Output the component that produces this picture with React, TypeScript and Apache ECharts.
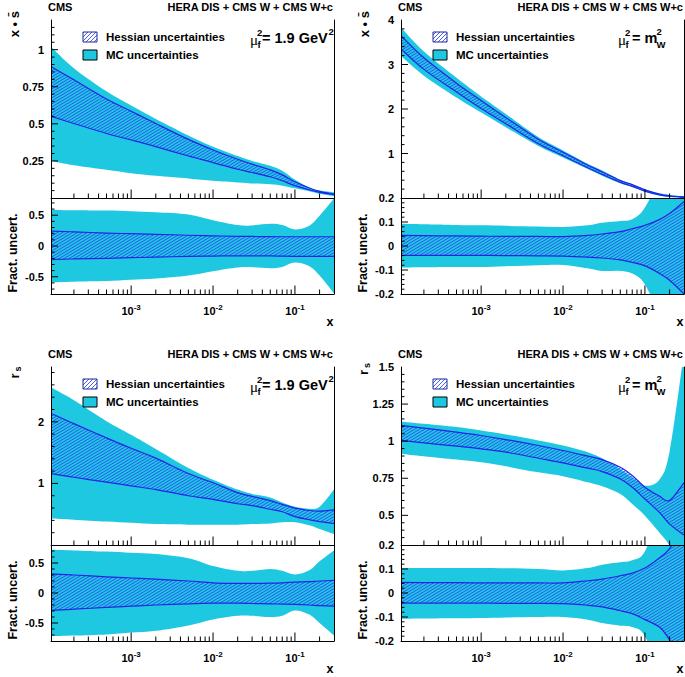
import React, { useEffect, useRef } from 'react';
import * as echarts from 'echarts';

// ---------------- data ----------------
const X_MIN = 1.05e-4;
const X_MAX = 0.3;
const X_POINTS = [1.05e-4, 2e-4, 5e-4, 1e-3, 2e-3, 5e-3, 1e-2, 2e-2, 3e-2, 5e-2, 7e-2, 0.1, 0.15, 0.2, 0.3];
const X_MAJOR_TICKS = [1e-3, 1e-2, 1e-1];
const X_MINOR_MANTISSAS = [2, 3, 4, 5, 6, 7, 8, 9];

// Panel A: x*sbar, mu_f^2 = 1.9 GeV^2
const A_HESS_UP = [0.886, 0.797, 0.667, 0.585, 0.502, 0.395, 0.324, 0.261, 0.228, 0.19, 0.156, 0.109, 0.067, 0.045, 0.027];
const A_HESS_LO = [0.551, 0.502, 0.435, 0.391, 0.346, 0.283, 0.239, 0.194, 0.172, 0.143, 0.116, 0.083, 0.054, 0.038, 0.022];
const A_MC_UP = [1.02, 0.875, 0.719, 0.623, 0.533, 0.422, 0.346, 0.283, 0.25, 0.217, 0.183, 0.123, 0.071, 0.05, 0.038];
const A_MC_LO = [0.25, 0.221, 0.19, 0.167, 0.15, 0.132, 0.116, 0.105, 0.098, 0.092, 0.083, 0.065, 0.045, 0.028, 0.012];
const A_FR_HESS_UP = [0.242, 0.23, 0.21, 0.2, 0.19, 0.175, 0.165, 0.158, 0.155, 0.152, 0.15, 0.15, 0.15, 0.15, 0.15];
const A_FR_HESS_LO = [-0.22, -0.21, -0.2, -0.19, -0.18, -0.17, -0.163, -0.16, -0.16, -0.162, -0.165, -0.167, -0.168, -0.168, -0.168];
const A_FR_MC_UP = [0.59, 0.58, 0.575, 0.565, 0.548, 0.511, 0.42, 0.34, 0.335, 0.36, 0.34, 0.27, 0.33, 0.49, 0.77];
const A_FR_MC_LO = [-0.59, -0.58, -0.57, -0.55, -0.53, -0.48, -0.41, -0.35, -0.345, -0.36, -0.34, -0.27, -0.33, -0.48, -0.77];

// Panel B: x*sbar, mu_f^2 = m_W^2
const B_HESS_UP = [3.65, 3.15, 2.58, 2.19, 1.81, 1.32, 1.03, 0.74, 0.59, 0.39, 0.3, 0.184, 0.089, 0.051, 0.024];
const B_HESS_LO = [3.35, 2.89, 2.38, 2.01, 1.67, 1.22, 0.95, 0.68, 0.53, 0.35, 0.26, 0.156, 0.071, 0.039, 0.016];
const B_MC_UP = [3.83, 3.29, 2.7, 2.28, 1.89, 1.37, 1.07, 0.77, 0.62, 0.41, 0.31, 0.197, 0.104, 0.067, 0.036];
const B_MC_LO = [3.19, 2.75, 2.26, 1.92, 1.59, 1.17, 0.91, 0.65, 0.5, 0.33, 0.25, 0.143, 0.056, 0.023, 0.004];
const B_FR_HESS_UP = [0.044, 0.043, 0.042, 0.041, 0.04, 0.04, 0.039, 0.044, 0.05, 0.06, 0.072, 0.086, 0.11, 0.135, 0.185];
const B_FR_HESS_LO = [-0.039, -0.039, -0.039, -0.039, -0.04, -0.041, -0.042, -0.046, -0.05, -0.058, -0.068, -0.083, -0.114, -0.143, -0.2];
const B_FR_MC_UP = [0.093, 0.091, 0.088, 0.086, 0.084, 0.081, 0.079, 0.086, 0.097, 0.104, 0.111, 0.16, 0.3, 0.5, 0.8];
const B_FR_MC_LO = [-0.09, -0.089, -0.088, -0.0875, -0.084, -0.08, -0.079, -0.093, -0.104, -0.104, -0.115, -0.16, -0.3, -0.5, -0.8];

// Panel C: r_s, mu_f^2 = 1.9 GeV^2
const C_HESS_UP = [2.14, 1.97, 1.74, 1.57, 1.41, 1.16, 1.01, 0.85, 0.79, 0.72, 0.66, 0.6, 0.56, 0.55, 0.57];
const C_HESS_LO = [1.16, 1.1, 1.02, 0.96, 0.9, 0.8, 0.74, 0.67, 0.64, 0.58, 0.54, 0.46, 0.41, 0.38, 0.35];
const C_MC_UP = [2.56, 2.35, 2.01, 1.79, 1.56, 1.25, 1.06, 0.9, 0.83, 0.77, 0.69, 0.62, 0.59, 0.62, 0.9];
const C_MC_LO = [0.43, 0.41, 0.38, 0.36, 0.34, 0.33, 0.33, 0.33, 0.34, 0.35, 0.37, 0.37, 0.32, 0.26, 0.18];
const C_FR_HESS_UP = [0.32, 0.3, 0.27, 0.25, 0.23, 0.2, 0.17, 0.16, 0.16, 0.165, 0.17, 0.18, 0.19, 0.2, 0.21];
const C_FR_HESS_LO = [-0.29, -0.27, -0.24, -0.22, -0.2, -0.18, -0.17, -0.17, -0.175, -0.18, -0.185, -0.19, -0.2, -0.21, -0.22];
const C_FR_MC_UP = [0.72, 0.71, 0.69, 0.67, 0.65, 0.58, 0.45, 0.37, 0.37, 0.4, 0.37, 0.31, 0.38, 0.53, 0.71];
const C_FR_MC_LO = [-0.72, -0.71, -0.69, -0.66, -0.63, -0.54, -0.44, -0.38, -0.38, -0.4, -0.38, -0.29, -0.36, -0.5, -0.71];

// Panel D: r_s, mu_f^2 = m_W^2
const D_HESS_UP = [1.106, 1.088, 1.061, 1.038, 1.011, 0.971, 0.937, 0.899, 0.876, 0.824, 0.768, 0.69, 0.63, 0.6, 0.72];
const D_HESS_LO = [1.005, 0.989, 0.966, 0.948, 0.926, 0.885, 0.854, 0.818, 0.795, 0.745, 0.689, 0.61, 0.52, 0.441, 0.367];
const D_MC_UP = [1.133, 1.117, 1.095, 1.072, 1.045, 1.005, 0.971, 0.926, 0.885, 0.813, 0.757, 0.7, 0.74, 0.93, 1.6];
const D_MC_LO = [0.914, 0.899, 0.876, 0.858, 0.831, 0.79, 0.764, 0.723, 0.696, 0.644, 0.577, 0.498, 0.385, 0.295, 0.1];
const D_FR_HESS_UP = [0.044, 0.043, 0.043, 0.042, 0.042, 0.042, 0.042, 0.051, 0.058, 0.072, 0.083, 0.104, 0.146, 0.185, 0.28];
const D_FR_HESS_LO = [-0.042, -0.042, -0.042, -0.042, -0.043, -0.043, -0.044, -0.051, -0.058, -0.074, -0.086, -0.111, -0.142, -0.195, -0.3];
const D_FR_MC_UP = [0.104, 0.104, 0.104, 0.104, 0.103, 0.1, 0.094, 0.104, 0.118, 0.128, 0.136, 0.174, 0.35, 0.55, 0.85];
const D_FR_MC_LO = [-0.107, -0.106, -0.105, -0.104, -0.102, -0.1, -0.1, -0.111, -0.125, -0.136, -0.142, -0.18, -0.35, -0.55, -0.85];

// axis ranges and tick labels
const A_Y_LABELS = [0.25, 0.5, 0.75, 1];
const B_Y_LABELS = [1, 2, 3, 4];
const C_Y_LABELS = [1, 2];
const D_Y_LABELS = [0.5, 0.75, 1, 1.25, 1.5];
const FR_WIDE_LABELS = [-0.5, 0, 0.5];
const FR_NARROW_LABELS = [-0.2, -0.1, 0, 0.1, 0.2];

// ---------------- styling ----------------
const FONT = '"Liberation Sans", Arial, Helvetica, sans-serif';
const CYAN = '#1fc8e1';
const EDGE = '#2323e6';

function svgUrl(svg: string) {
  return 'data:image/svg+xml;base64,' + btoa(svg);
}
function bandHatch() {
  return {
    image: svgUrl('<svg xmlns="http://www.w3.org/2000/svg" width="5" height="3"><path d="M-1,3.6 L6,-0.6 M-1,0.6 L1,-0.6 M4,3.6 L6,2.4" stroke="#2f46f2" stroke-width="0.9" fill="none"/></svg>'),
    repeat: 'repeat',
    imageWidth: 5,
    imageHeight: 3,
  };
}
function legendHatch() {
  return {
    image: svgUrl('<svg xmlns="http://www.w3.org/2000/svg" width="4" height="4"><rect width="4" height="4" fill="#ffffff"/><path d="M-1,5 L5,-1 M-1,1 L1,-1 M3,5 L5,3" stroke="#3a4cf0" stroke-width="0.9" fill="none"/></svg>'),
    repeat: 'repeat',
    imageWidth: 4,
    imageHeight: 4,
  };
}

function curve(pts: number[][], cmd: string): string {
  const f = (n: number) => n.toFixed(2);
  let d = `${cmd}${f(pts[0][0])},${f(pts[0][1])}`;
  for (let i = 1; i < pts.length; i++) {
    const p0 = pts[Math.max(i - 2, 0)];
    const p1 = pts[i - 1];
    const p2 = pts[i];
    const p3 = pts[Math.min(i + 1, pts.length - 1)];
    d += `C${f(p1[0] + (p2[0] - p0[0]) / 6)},${f(p1[1] + (p2[1] - p0[1]) / 6)} ${f(p2[0] - (p3[0] - p1[0]) / 6)},${f(p2[1] - (p3[1] - p1[1]) / 6)} ${f(p2[0])},${f(p2[1])}`;
  }
  return d;
}

function bandSeries(g: number, lo: number[], hi: number[], hess: boolean) {
  return {
    type: 'custom',
    xAxisIndex: g,
    yAxisIndex: g,
    clip: true,
    silent: true,
    z: hess ? 3 : 2,
    data: X_POINTS.map((x, i) => [x, lo[i], hi[i]]),
    encode: { x: 0, y: [1, 2] },
    renderItem: (params: any, api: any) => {
      if (params.dataIndex !== 0) return null;
      const up = X_POINTS.map((x, i) => api.coord([x, hi[i]]));
      const dn = X_POINTS.map((x, i) => api.coord([x, lo[i]]));
      const fillD = curve(up, 'M') + curve(dn.slice().reverse(), 'L') + 'Z';
      const children: any[] = [
        { type: 'path', shape: { pathData: fillD }, style: { fill: hess ? bandHatch() : CYAN, stroke: 'none' } },
      ];
      if (hess) {
        children.push({ type: 'path', shape: { pathData: curve(up, 'M') }, style: { fill: 'none', stroke: EDGE, lineWidth: 1.2 } });
        children.push({ type: 'path', shape: { pathData: curve(dn, 'M') }, style: { fill: 'none', stroke: EDGE, lineWidth: 1.2 } });
      }
      return { type: 'group', children };
    },
  };
}

function tickSeries(g: number, ticks: number[][]) {
  return {
    type: 'custom',
    xAxisIndex: g,
    yAxisIndex: g,
    silent: true,
    z: 6,
    data: ticks,
    encode: { x: 0, y: 1 },
    renderItem: (params: any, api: any) => {
      const p = api.coord([api.value(0), api.value(1)]);
      const len = api.value(2);
      const horiz = api.value(3) === 1;
      return {
        type: 'line',
        shape: horiz
          ? { x1: p[0], y1: p[1], x2: p[0] + len, y2: p[1] }
          : { x1: p[0], y1: p[1], x2: p[0], y2: p[1] - len },
        style: { stroke: '#000', lineWidth: 1 },
      };
    },
  };
}

function near(a: number, b: number) {
  return Math.abs(a - b) < 1e-7;
}

type Sub = {
  ymin: number; ymax: number; labels: number[]; minorStep: number;
  hessUp: number[]; hessLo: number[]; mcUp: number[]; mcLo: number[];
};
type Panel = { ox: number; oy: number; upper: Sub; lower: Sub; kind: 'xs' | 'rs'; scale: 'low' | 'mw' };

const PANELS: Panel[] = [
  {
    ox: 0, oy: 0, kind: 'xs', scale: 'low',
    upper: { ymin: 0, ymax: 1.2, labels: A_Y_LABELS, minorStep: 0.05, hessUp: A_HESS_UP, hessLo: A_HESS_LO, mcUp: A_MC_UP, mcLo: A_MC_LO },
    lower: { ymin: -0.78, ymax: 0.78, labels: FR_WIDE_LABELS, minorStep: 0.1, hessUp: A_FR_HESS_UP, hessLo: A_FR_HESS_LO, mcUp: A_FR_MC_UP, mcLo: A_FR_MC_LO },
  },
  {
    ox: 350, oy: 0, kind: 'xs', scale: 'mw',
    upper: { ymin: 0, ymax: 4, labels: B_Y_LABELS, minorStep: 0.2, hessUp: B_HESS_UP, hessLo: B_HESS_LO, mcUp: B_MC_UP, mcLo: B_MC_LO },
    lower: { ymin: -0.2, ymax: 0.2, labels: FR_NARROW_LABELS, minorStep: 0.02, hessUp: B_FR_HESS_UP, hessLo: B_FR_HESS_LO, mcUp: B_FR_MC_UP, mcLo: B_FR_MC_LO },
  },
  {
    ox: 0, oy: 347, kind: 'rs', scale: 'low',
    upper: { ymin: 0, ymax: 2.89, labels: C_Y_LABELS, minorStep: 0.2, hessUp: C_HESS_UP, hessLo: C_HESS_LO, mcUp: C_MC_UP, mcLo: C_MC_LO },
    lower: { ymin: -0.8, ymax: 0.8, labels: FR_WIDE_LABELS, minorStep: 0.1, hessUp: C_FR_HESS_UP, hessLo: C_FR_HESS_LO, mcUp: C_FR_MC_UP, mcLo: C_FR_MC_LO },
  },
  {
    ox: 350, oy: 347, kind: 'rs', scale: 'mw',
    upper: { ymin: 0.3, ymax: 1.5, labels: D_Y_LABELS, minorStep: 0.05, hessUp: D_HESS_UP, hessLo: D_HESS_LO, mcUp: D_MC_UP, mcLo: D_MC_LO },
    lower: { ymin: -0.2, ymax: 0.2, labels: FR_NARROW_LABELS, minorStep: 0.02, hessUp: D_FR_HESS_UP, hessLo: D_FR_HESS_LO, mcUp: D_FR_MC_UP, mcLo: D_FR_MC_LO },
  },
];

function txt(x: number, y: number, text: string, font: string, align = 'left', rotation = 0, fill = '#000') {
  return {
    type: 'text', x, y, rotation, silent: true, z: 20,
    style: { text, font, fill, align, verticalAlign: 'middle' },
  };
}

function buildOption() {
  const grids: any[] = [];
  const xAxes: any[] = [];
  const yLeft: any[] = [];
  const yRight: any[] = [];
  const series: any[] = [];
  const graphic: any[] = [];

  const xMinor: number[] = [];
  [1e-4, 1e-3, 1e-2, 1e-1].forEach((dec) =>
    X_MINOR_MANTISSAS.forEach((m) => {
      const v = m * dec;
      if (v > X_MIN * 1.0001 && v < X_MAX * 0.9999) xMinor.push(v);
    })
  );

  PANELS.forEach((P, p) => {
    const { ox, oy } = P;
    [P.upper, P.lower].forEach((S, k) => {
      const g = p * 2 + k;
      const isLower = k === 1;
      grids.push({
        left: 51 + ox, top: (isLower ? 198 : 20) + oy, width: 283, height: isLower ? 96 : 178,
        containLabel: false, outerBoundsMode: 'none',
      });
      xAxes.push({
        type: 'log', logBase: 10, gridIndex: g, min: X_MIN, max: X_MAX, z: 10, position: 'bottom',
        axisLine: { show: true, onZero: false, lineStyle: { color: '#000', width: 1 } },
        axisTick: { show: false }, minorTick: { show: false }, splitLine: { show: false },
        axisLabel: isLower
          ? {
              show: true, margin: 9,
              formatter: (v: number) => {
                const e = Math.log10(v);
                const r = Math.round(e);
                return Math.abs(e - r) < 1e-6 ? `{b|10}{s|${r}}` : '';
              },
              rich: {
                b: { fontSize: 11, fontWeight: 'bold', fontFamily: FONT, color: '#000', lineHeight: 16 },
                s: { fontSize: 8, fontWeight: 'bold', fontFamily: FONT, color: '#000', lineHeight: 9, verticalAlign: 'top' },
              },
            }
          : { show: false },
      });
      yLeft.push({
        type: 'value', gridIndex: g, min: S.ymin, max: S.ymax, position: 'left', z: 10,
        axisLine: { show: true, onZero: false, lineStyle: { color: '#000', width: 1 } },
        axisTick: { show: false }, minorTick: { show: false }, splitLine: { show: false },
        axisLabel: {
          show: true, margin: 7, fontSize: 11, fontWeight: 'bold', fontFamily: FONT, color: '#000',
          customValues: S.labels,
          formatter: (v: number) => (S.labels.some((l) => near(l, v)) ? String(+(+v).toFixed(4)) : ''),
        },
      });
      yRight.push({
        type: 'value', gridIndex: g, min: S.ymin, max: S.ymax, position: 'right', z: 10,
        axisLine: { show: true, onZero: false, lineStyle: { color: '#000', width: 1 } },
        axisTick: { show: false }, axisLabel: { show: false }, splitLine: { show: false },
      });

      series.push(bandSeries(g, S.mcLo, S.mcUp, false));
      series.push(bandSeries(g, S.hessLo, S.hessUp, true));

      // tick marks (inside, ROOT style)
      const ticks: number[][] = [];
      X_MAJOR_TICKS.forEach((x) => ticks.push([x, S.ymin, 8.5, 0]));
      xMinor.forEach((x) => ticks.push([x, S.ymin, 4.5, 0]));
      const start = Math.ceil(S.ymin / S.minorStep - 1e-6);
      const end = Math.floor(S.ymax / S.minorStep + 1e-6);
      for (let i = start; i <= end; i++) {
        const v = +(i * S.minorStep).toFixed(6);
        if (v <= S.ymin + 1e-6 || v >= S.ymax - 1e-6) continue;
        const major = S.labels.some((l) => near(l, v));
        ticks.push([X_MIN, v, major ? 7 : 3.5, 1]);
      }
      series.push(tickSeries(g, ticks));
    });

    // ---- texts ----
    const B = (s: number) => `bold ${s}px ${FONT}`;
    graphic.push(txt(48 + ox, 6.5 + oy, 'CMS', B(11)));
    graphic.push(txt(333 + ox, 6.5 + oy, 'HERA DIS + CMS W + CMS W+c', B(11), 'right'));

    // legend
    graphic.push({ type: 'rect', silent: true, z: 20, shape: { x: 83 + ox, y: 32 + oy, width: 14, height: 10 }, style: { fill: legendHatch(), stroke: '#1b2a9a', lineWidth: 1 } });
    graphic.push({ type: 'rect', silent: true, z: 20, shape: { x: 83 + ox, y: 50 + oy, width: 14, height: 10 }, style: { fill: CYAN, stroke: '#000', lineWidth: 1 } });
    graphic.push(txt(106 + ox, 37 + oy, 'Hessian uncertainties', B(11.5)));
    graphic.push(txt(106 + ox, 55 + oy, 'MC uncertainties', B(11.5)));

    // scale label
    const base = P.scale === 'low' ? 250 : 268;
    graphic.push(txt(base + ox, 40 + oy, 'μ', `15px "Liberation Serif", serif`));
    graphic.push(txt(base + 7 + ox, 32.5 + oy, '2', B(9.5)));
    graphic.push(txt(base + 7.5 + ox, 44 + oy, 'f', B(9.5)));
    if (P.scale === 'low') {
      graphic.push(txt(262 + ox, 38 + oy, '= 1.9 GeV', B(14.5)));
      graphic.push(txt(328.5 + ox, 31.5 + oy, '2', B(9.5)));
    } else {
      graphic.push(txt(282 + ox, 38 + oy, '= m', B(14.5)));
      graphic.push(txt(306.5 + ox, 31.5 + oy, '2', B(9.5)));
      graphic.push(txt(306.5 + ox, 44 + oy, 'W', B(9.5)));
    }

    // y titles
    if (P.kind === 'xs') {
      graphic.push(txt(14 + ox, 11 + oy, 'x \u2022 s\u0304', B(13), 'right', Math.PI / 2));
    } else {
      const ry = p === 2 ? 29 : 25.5;
      const rx = p === 2 ? 14.5 : 13.5;
      graphic.push(txt(rx + ox, ry + oy, 'r', B(13), 'center', Math.PI / 2));
      graphic.push(txt(rx + 3 + ox, ry - 7 + oy, 's', B(9), 'center', Math.PI / 2));
    }
    graphic.push(txt(13 + ox, 253 + oy, 'Fract. uncert.', B(12.5), 'center', Math.PI / 2));
    graphic.push(txt(330 + ox, 322 + oy, 'x', B(12.5), 'center'));
  });

  return {
    animation: false,
    backgroundColor: '#ffffff',
    grid: grids,
    xAxis: xAxes,
    yAxis: [...yLeft, ...yRight],
    series,
    graphic,
  };
}

export default function App() {
  const ref = useRef<HTMLDivElement>(null);
  useEffect(() => {
    if (!ref.current) return;
    const chart = echarts.init(ref.current, undefined, { renderer: 'svg' });
    chart.setOption(buildOption() as any);
    return () => chart.dispose();
  }, []);
  return <div ref={ref} style={{ position: 'fixed', left: 0, top: 0, width: 685, height: 677 }} />;
}
